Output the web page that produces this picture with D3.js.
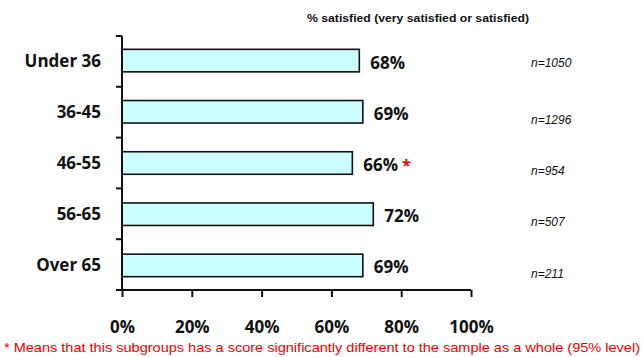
<!DOCTYPE html>
<html><head><meta charset="utf-8">
<script src="https://cdn.jsdelivr.net/npm/d3@7"></script>
<style>body{margin:0;background:#fff}svg{display:block}</style>
</head><body>
<script>
const categories = ["Under 36", "36-45", "46-55", "56-65", "Over 65"];
const values = [68, 69, 66, 72, 69];
const valueLabels = ["68%", "69%", "66%", "72%", "69%"];
const significant = [false, false, true, false, false];
const sampleSizes = ["n=1050", "n=1296", "n=954", "n=507", "n=211"];
const xTicks = [0, 20, 40, 60, 80, 100];
const title = "% satisfied (very satisfied or satisfied)";
const footnote = "* Means that this subgroups has a score significantly different to the sample as a whole (95% level)";

const W = 644, H = 357;
const svg = d3.select("body").append("svg").attr("width", W).attr("height", H);
const x = d3.scaleLinear().domain([0, 100]).range([122, 471]);
const y = d3.scaleBand().domain(categories).range([36, 290]).paddingInner(0.56).paddingOuter(0.26);
const font = "'Open Sans', Lato, sans-serif";
const fs = 17;

// title
svg.append("text").attr("x", 418).attr("y", 22).attr("text-anchor", "middle")
  .attr("font-family", "'Liberation Sans Narrow', 'Liberation Sans', sans-serif").attr("font-size", 10.5)
  .attr("font-weight", "bold").attr("fill", "#111")
  .attr("textLength", 222).attr("lengthAdjust", "spacingAndGlyphs").text(title);

// bars
svg.append("g").selectAll("rect").data(categories).join("rect")
  .attr("x", x(0)).attr("y", d => y(d))
  .attr("width", (d, i) => x(values[i]) - x(0)).attr("height", y.bandwidth())
  .attr("fill", "#ccffff").attr("stroke", "#111").attr("stroke-width", 1.6);

// y axis
const yTickPos = d3.range(categories.length + 1).map(i => 36 + i * (254 / categories.length));
const ya = svg.append("g");
ya.append("line").attr("x1", x(0)).attr("x2", x(0)).attr("y1", 36).attr("y2", 290)
  .attr("stroke", "#111").attr("stroke-width", 2);
ya.selectAll("line.t").data(yTickPos).join("line").attr("class", "t")
  .attr("x1", x(0) - 6).attr("x2", x(0)).attr("y1", d => d).attr("y2", d => d)
  .attr("stroke", "#111").attr("stroke-width", 2);
ya.selectAll("text").data(categories).join("text")
  .attr("x", 101).attr("y", d => y(d) + y.bandwidth() / 2).attr("dy", "0.35em")
  .attr("text-anchor", "end").attr("font-family", font).attr("font-weight", "bold")
  .attr("font-size", fs).attr("fill", "#111").text(d => d);

// x axis
const xAxis = d3.axisBottom(x).tickValues(xTicks).tickSize(7).tickSizeOuter(0).tickFormat(d => d + "%");
const xg = svg.append("g").attr("transform", "translate(0,290)").call(xAxis);
xg.select(".domain").attr("stroke", "#111").attr("stroke-width", 2).attr("d", `M${x(0) - 6},0H${x(100)}`);
xg.selectAll(".tick line").attr("stroke", "#111").attr("stroke-width", 2);
xg.selectAll(".tick text").attr("y", 31).attr("font-family", font).attr("font-weight", "bold")
  .attr("font-size", fs).attr("fill", "#111");

// value labels
const vl = svg.append("g").selectAll("text").data(categories).join("text")
  .attr("x", (d, i) => x(values[i]) + 11).attr("y", d => y(d) + y.bandwidth() / 2 + 2).attr("dy", "0.35em")
  .attr("font-family", font).attr("font-weight", "bold").attr("font-size", fs).attr("fill", "#111");
vl.append("tspan").text((d, i) => valueLabels[i]);
vl.append("tspan").attr("fill", "#ee0000").attr("dx", 4).attr("font-size", 16)
  .text((d, i) => significant[i] ? "*" : "");

// sample sizes
svg.append("g").selectAll("text").data(categories).join("text")
  .attr("x", 531).attr("y", (d, i) => y(d) + y.bandwidth() / 2 + (i === 0 ? 2 : 8)).attr("dy", "0.35em")
  .attr("font-family", "'Liberation Sans', Arial, sans-serif").attr("font-style", "italic")
  .attr("font-size", 12).attr("fill", "#111").text((d, i) => sampleSizes[i]);

// footnote
svg.append("text").attr("x", 4).attr("y", 352)
  .attr("font-family", "'Liberation Sans Narrow', 'Liberation Sans', sans-serif").attr("font-size", 13.5)
  .attr("fill", "#ee0000").attr("textLength", 636).attr("lengthAdjust", "spacingAndGlyphs").text(footnote);
</script>
</body></html>
